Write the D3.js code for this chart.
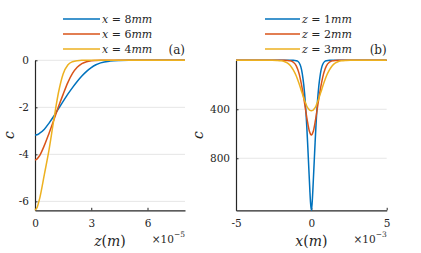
<!DOCTYPE html>
<html>
<head>
<meta charset="utf-8">
<script src="https://cdn.jsdelivr.net/npm/d3@7"></script>
<style>
  body { margin: 0; background: #fff; }
</style>
</head>
<body>
<div id="chart"></div>
<script>
const width = 421, height = 253;
const serif = "'DejaVu Serif', serif";

// panel (a): c against z, z in units of 1e-5 m
const zValues = [0, 0.1, 0.25, 0.5, 0.75, 1.0, 1.25, 1.5, 1.75, 2.0, 2.25, 2.5, 2.75, 3.0, 3.25, 3.5, 4.0, 4.5, 5.0, 6.0, 7.0, 8.0];
const cX8 = [-3.18, -3.17, -3.1, -2.93, -2.67, -2.38, -2.06, -1.75, -1.44, -1.16, -0.9, -0.67, -0.47, -0.31, -0.19, -0.11, -0.035, -0.01, -0.003, 0, 0, 0];
const cX6 = [-4.24, -4.2, -4.05, -3.62, -3.1, -2.55, -1.98, -1.45, -0.95, -0.56, -0.3, -0.14, -0.06, -0.02, -0.007, -0.002, 0, 0, 0, 0, 0, 0];
const cX4 = [-6.37, -6.28, -5.87, -4.85, -3.8, -2.55, -1.38, -0.58, -0.2, -0.06, -0.015, -0.003, 0, 0, 0, 0, 0, 0, 0, 0, 0, 0];
const labelsA = ["8", "6", "4"];
const yTicksA = [-6, -4, -2, 0];
const xTicksA = [0, 3, 6];

// panel (b): c against x, x in units of 1e-3 m
const xValues = [-5, -2.6, -2.3, -2.0, -1.8, -1.6, -1.4, -1.2, -1.0, -0.9, -0.8, -0.7, -0.6, -0.5, -0.4, -0.35, -0.3, -0.25, -0.2, -0.15, -0.1, -0.05,
                 0, 0.05, 0.1, 0.15, 0.2, 0.25, 0.3, 0.35, 0.4, 0.5, 0.6, 0.7, 0.8, 0.9, 1.0, 1.2, 1.4, 1.6, 1.8, 2.0, 2.3, 2.6, 5];
const cZ1 = [0, 0, 0, 0, 0, 0, 0, 0, 3, 8, 22, 52, 110, 205, 345, 440, 550, 670, 800, 930, 1060, 1170,
             1225, 1170, 1060, 930, 800, 670, 550, 440, 345, 205, 110, 52, 22, 8, 3, 0, 0, 0, 0, 0, 0, 0, 0];
const cZ2 = [0, 0, 0, 0, 0, 1, 4, 15, 45, 75, 115, 170, 235, 310, 390, 430, 470, 505, 540, 570, 590, 605,
             610, 605, 590, 570, 540, 505, 470, 430, 390, 310, 235, 170, 115, 75, 45, 15, 4, 1, 0, 0, 0, 0, 0];
const cZ3 = [0, 0, 1, 4, 10, 21, 42, 78, 128, 160, 195, 235, 272, 310, 345, 360, 375, 386, 395, 402, 408, 411,
             412, 411, 408, 402, 395, 386, 375, 360, 345, 310, 272, 235, 195, 160, 128, 78, 42, 21, 10, 4, 1, 0, 0];
const labelsB = ["1", "2", "3"];
const yTicksB = [400, 800];
const xTicksB = [-5, 0, 5];

const colors = ["#0072BD", "#D95319", "#EDB120"];

const svg = d3.select("#chart")
    .append("svg")
    .attr("width", width)
    .attr("height", height)
    .style("font-family", serif);

function drawPanel(p) {
    const x = d3.scaleLinear().domain(p.xDomain).range([p.left, p.right]);
    const y = d3.scaleLinear().domain(p.yDomain).range(p.yRange);
    const g = svg.append("g");

    // grid lines
    g.selectAll("line.grid")
        .data(p.yTicks)
        .enter().append("line")
        .attr("class", "grid")
        .attr("x1", p.left).attr("x2", p.right)
        .attr("y1", d => y(d)).attr("y2", d => y(d))
        .attr("stroke", "#e6e6e6")
        .attr("stroke-width", 1);

    // axes, ticks pointing inward
    const yAxis = g.append("g")
        .attr("transform", `translate(${p.left},0)`)
        .call(d3.axisLeft(y).tickValues(p.yTicks).tickSizeInner(-2.5).tickSizeOuter(0).tickPadding(6).tickFormat(d => String(d)));
    const xAxis = g.append("g")
        .attr("transform", `translate(0,${p.bottom})`)
        .call(d3.axisBottom(x).tickValues(p.xTicks).tickSizeInner(-2.5).tickSizeOuter(0).tickPadding(9).tickFormat(d => String(d)));
    [yAxis, xAxis].forEach(a => {
        a.attr("font-family", serif);
        a.select(".domain").attr("stroke", "#262626").attr("stroke-width", 1.2);
        a.selectAll(".tick line").attr("stroke", "#262626");
        a.selectAll(".tick text")
            .style("font-size", "10.5px")
            .style("font-family", serif)
            .attr("fill", "#262626");
    });

    // curves
    const line = d3.line()
        .x((d, i) => x(p.xs[i]))
        .y(d => y(d))
        .curve(d3.curveMonotoneX);
    p.series.forEach((s, i) => {
        g.append("path")
            .datum(s)
            .attr("fill", "none")
            .attr("stroke", colors[i])
            .attr("stroke-width", 1.5)
            .attr("d", line);
    });

    // legend
    p.labels.forEach((lab, i) => {
        const ly = p.legendY + i * 15;
        g.append("line")
            .attr("x1", p.legendX).attr("x2", p.legendX + p.legendLen)
            .attr("y1", ly).attr("y2", ly)
            .attr("stroke", colors[i])
            .attr("stroke-width", 1.5);
        const t = g.append("text")
            .attr("x", p.legendX + p.legendLen + 2)
            .attr("y", ly + 4)
            .attr("fill", "#262626")
            .style("font-size", "11px");
        t.append("tspan").style("font-style", "italic").text(p.varName);
        t.append("tspan").text(" = " + lab);
        t.append("tspan").style("font-style", "italic").text("mm");
    });

    // panel tag
    g.append("text")
        .attr("x", p.right)
        .attr("y", 54)
        .attr("text-anchor", "end")
        .attr("fill", "#262626")
        .style("font-size", "12px")
        .text(p.tag);

    // axis labels
    const xl = g.append("text")
        .attr("x", (p.left + p.right) / 2 + p.xLabelShift)
        .attr("y", 246)
        .attr("text-anchor", "middle")
        .attr("fill", "#262626")
        .style("font-size", "14px");
    xl.append("tspan").style("font-style", "italic").text(p.axisVar);
    xl.append("tspan").text("(");
    xl.append("tspan").style("font-style", "italic").text("m");
    xl.append("tspan").text(")");

    g.append("text")
        .attr("transform", `translate(${p.yLabelX},135) rotate(-90)`)
        .attr("text-anchor", "middle")
        .attr("fill", "#262626")
        .style("font-size", "14px")
        .style("font-style", "italic")
        .text("c");

    const ex = g.append("text")
        .attr("x", p.right)
        .attr("y", 243)
        .attr("text-anchor", "end")
        .attr("fill", "#262626")
        .style("font-size", "10.5px");
    ex.append("tspan").text("×10");
    ex.append("tspan").attr("dy", -6).style("font-size", "7.5px").text("−" + p.exponent);
}

drawPanel({
    left: 35, right: 185, bottom: 210.3,
    xDomain: [0, 8], yDomain: [-6.38, 0], yRange: [210.3, 60.3],
    xs: zValues, series: [cX8, cX6, cX4],
    yTicks: yTicksA, xTicks: xTicksA,
    labels: labelsA, varName: "x", legendX: 63, legendY: 19, legendLen: 37,
    tag: "(a)", axisVar: "z", xLabelShift: 0, exponent: "5", yLabelX: 13.5
});

drawPanel({
    left: 236, right: 386.7, bottom: 210.3,
    xDomain: [-5, 5], yDomain: [0, 1225], yRange: [60.3, 210.3],
    xs: xValues, series: [cZ1, cZ2, cZ3],
    yTicks: yTicksB, xTicks: xTicksB,
    labels: labelsB, varName: "z", legendX: 265, legendY: 19, legendLen: 35,
    tag: "(b)", axisVar: "x", xLabelShift: 0, exponent: "3", yLabelX: 203
});
</script>
</body>
</html>
